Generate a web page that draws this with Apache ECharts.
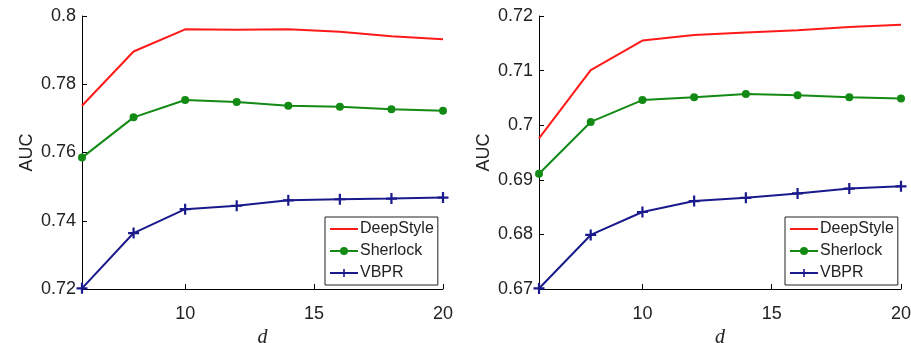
<!DOCTYPE html>
<html><head><meta charset="utf-8">
<script src="https://cdn.jsdelivr.net/npm/echarts@6/dist/echarts.min.js"></script>
<style>html,body{margin:0;padding:0;background:#fff}#c{width:911px;height:343px}</style>
</head><body><div id="c"></div>
<script>
const dValues = [6, 8, 10, 12, 14, 16, 18, 20];
const xTicks = [10, 15, 20];
const seriesNames = ['DeepStyle', 'Sherlock', 'VBPR'];
const leftDeepStyle = [0.7737, 0.7896, 0.7961, 0.7960, 0.7961, 0.7954, 0.7941, 0.7932];
const leftSherlock  = [0.7585, 0.7703, 0.7754, 0.7748, 0.7737, 0.7734, 0.7727, 0.7722];
const leftVBPR      = [0.7202, 0.7364, 0.7434, 0.7444, 0.7460, 0.7463, 0.7465, 0.7468];
const rightDeepStyle = [0.6976, 0.7101, 0.7155, 0.7165, 0.7170, 0.7174, 0.7180, 0.7184];
const rightSherlock  = [0.6911, 0.7006, 0.7046, 0.7051, 0.7057, 0.7055, 0.7051, 0.7049];
const rightVBPR      = [0.6701, 0.6799, 0.6841, 0.6861, 0.6867, 0.6875, 0.6884, 0.6888];
const leftY = {min: 0.72, max: 0.8, interval: 0.02};
const rightY = {min: 0.67, max: 0.72, interval: 0.01};

const FONT = 'Liberation Sans, Arial, sans-serif';
const colors = ['#ff1a1a', '#138a13', '#1a1a8c'];
const plusPath = 'path://M4,0H6V4H10V6H6V10H4V6H0V4H4Z';
const symbols = ['circle', 'circle', plusPath];
const symbolSizes = [0, 8, 11];

function pairs(vals){ return dValues.map((d,i)=>[d, vals[i]]); }

function xAxis(gi){
  return {
    type: 'value', gridIndex: gi, min: 6, max: 20,
    axisLine: {lineStyle: {color: '#000', width: 1}},
    axisTick: {inside: true, length: 5, customValues: xTicks, lineStyle: {color: '#000'}},
    axisLabel: {customValues: xTicks, color: '#222', fontSize: 18, fontFamily: FONT, margin: 16},
    splitLine: {show: false},
    name: 'd', nameLocation: 'middle', nameGap: 30,
    nameTextStyle: {fontFamily: 'Liberation Serif, DejaVu Serif, serif', fontStyle: 'italic', fontSize: 20, color: '#222', lineHeight: 20}
  };
}
function yAxis(gi, cfg){
  return {
    type: 'value', gridIndex: gi, min: cfg.min, max: cfg.max, interval: cfg.interval,
    axisLine: {show: true, lineStyle: {color: '#000', width: 1}},
    axisTick: {show: true, inside: true, length: 5, lineStyle: {color: '#000'}},
    axisLabel: {color: '#222', fontSize: 18, fontFamily: FONT, margin: 6},
    splitLine: {show: false},
    name: 'AUC', nameLocation: 'middle', nameGap: 46,
    nameTextStyle: {fontFamily: FONT, fontSize: 18, color: '#222'}
  };
}
function makeSeries(gi, arrs){
  return arrs.map((vals, k) => ({
    name: seriesNames[k], type: 'line', xAxisIndex: gi, yAxisIndex: gi,
    data: pairs(vals), symbol: symbols[k], symbolSize: symbolSizes[k], showSymbol: k !== 0,
    lineStyle: {color: colors[k], width: 2}, itemStyle: {color: colors[k]},
    animation: false
  }));
}
function legend(left){
  return {
    orient: 'vertical', left: left, top: 217,
    data: [
      {name: seriesNames[0], itemStyle: {opacity: 0}},
      {name: seriesNames[1]},
      {name: seriesNames[2]}
    ],
    backgroundColor: '#fff', borderColor: '#222', borderWidth: 1,
    padding: [3, 4, 3, 4], itemGap: 4, itemWidth: 28, itemHeight: 10,
    textStyle: {fontFamily: FONT, fontSize: 16, color: '#222', lineHeight: 18, padding: [0,0,0,-3]},
    selectedMode: false
  };
}

const chart = echarts.init(document.getElementById('c'), null, {renderer: 'canvas'});
chart.setOption({
  backgroundColor: '#fff',
  animation: false,
  grid: [
    {left: 82, top: 16, width: 361, height: 273, outerBoundsMode: 'none', containLabel: false},
    {left: 539, top: 16, width: 362, height: 273, outerBoundsMode: 'none', containLabel: false}
  ],
  xAxis: [xAxis(0), xAxis(1)],
  yAxis: [yAxis(0, leftY), yAxis(1, rightY)],
  legend: [legend(325), legend(785)],
  series: [
    ...makeSeries(0, [leftDeepStyle, leftSherlock, leftVBPR]),
    ...makeSeries(1, [rightDeepStyle, rightSherlock, rightVBPR])
  ]
});
</script></body></html>
